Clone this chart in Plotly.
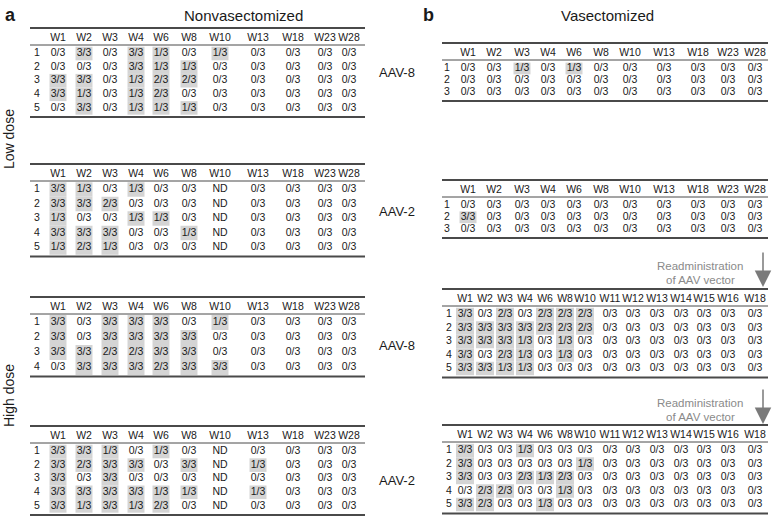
import plotly.graph_objects as go

# ---------------- data ----------------
weeks_long = ["W1", "W2", "W3", "W4", "W6", "W8", "W10", "W13", "W18", "W23", "W28"]
weeks_readmin = ["W1", "W2", "W3", "W4", "W6", "W8", "W10", "W11", "W12", "W13", "W14", "W15", "W16", "W18"]

nonvas_low_aav8 = [
    ["0/3", "3/3", "0/3", "3/3", "1/3", "0/3", "1/3", "0/3", "0/3", "0/3", "0/3"],
    ["0/3", "0/3", "0/3", "3/3", "1/3", "1/3", "0/3", "0/3", "0/3", "0/3", "0/3"],
    ["3/3", "3/3", "0/3", "1/3", "2/3", "2/3", "0/3", "0/3", "0/3", "0/3", "0/3"],
    ["3/3", "1/3", "0/3", "1/3", "2/3", "0/3", "0/3", "0/3", "0/3", "0/3", "0/3"],
    ["0/3", "3/3", "0/3", "1/3", "1/3", "1/3", "0/3", "0/3", "0/3", "0/3", "0/3"],
]
nonvas_low_aav2 = [
    ["3/3", "1/3", "0/3", "1/3", "0/3", "0/3", "ND", "0/3", "0/3", "0/3", "0/3"],
    ["3/3", "3/3", "2/3", "0/3", "0/3", "0/3", "ND", "0/3", "0/3", "0/3", "0/3"],
    ["1/3", "0/3", "0/3", "1/3", "1/3", "0/3", "ND", "0/3", "0/3", "0/3", "0/3"],
    ["3/3", "3/3", "3/3", "0/3", "0/3", "1/3", "ND", "0/3", "0/3", "0/3", "0/3"],
    ["1/3", "2/3", "1/3", "0/3", "0/3", "0/3", "ND", "0/3", "0/3", "0/3", "0/3"],
]
nonvas_high_aav8 = [
    ["3/3", "0/3", "3/3", "3/3", "3/3", "0/3", "1/3", "0/3", "0/3", "0/3", "0/3"],
    ["3/3", "0/3", "3/3", "3/3", "3/3", "3/3", "0/3", "0/3", "0/3", "0/3", "0/3"],
    ["3/3", "3/3", "2/3", "2/3", "3/3", "3/3", "0/3", "0/3", "0/3", "0/3", "0/3"],
    ["0/3", "3/3", "3/3", "3/3", "2/3", "3/3", "3/3", "0/3", "0/3", "0/3", "0/3"],
]
nonvas_high_aav2 = [
    ["3/3", "3/3", "1/3", "0/3", "1/3", "0/3", "ND", "0/3", "0/3", "0/3", "0/3"],
    ["3/3", "2/3", "3/3", "3/3", "0/3", "3/3", "ND", "1/3", "0/3", "0/3", "0/3"],
    ["3/3", "0/3", "3/3", "0/3", "0/3", "0/3", "ND", "0/3", "0/3", "0/3", "0/3"],
    ["3/3", "3/3", "3/3", "3/3", "1/3", "1/3", "ND", "1/3", "0/3", "0/3", "0/3"],
    ["3/3", "1/3", "3/3", "1/3", "2/3", "0/3", "ND", "0/3", "0/3", "0/3", "0/3"],
]
vas_aav8 = [
    ["0/3", "0/3", "1/3", "0/3", "1/3", "0/3", "0/3", "0/3", "0/3", "0/3", "0/3"],
    ["0/3", "0/3", "0/3", "0/3", "0/3", "0/3", "0/3", "0/3", "0/3", "0/3", "0/3"],
    ["0/3", "0/3", "0/3", "0/3", "0/3", "0/3", "0/3", "0/3", "0/3", "0/3", "0/3"],
]
vas_aav2 = [
    ["0/3", "0/3", "0/3", "0/3", "0/3", "0/3", "0/3", "0/3", "0/3", "0/3", "0/3"],
    ["3/3", "0/3", "0/3", "0/3", "0/3", "0/3", "0/3", "0/3", "0/3", "0/3", "0/3"],
    ["0/3", "0/3", "0/3", "0/3", "0/3", "0/3", "0/3", "0/3", "0/3", "0/3", "0/3"],
]
readmin_aav8 = [
    ["3/3", "0/3", "2/3", "0/3", "2/3", "2/3", "2/3", "0/3", "0/3", "0/3", "0/3", "0/3", "0/3", "0/3"],
    ["3/3", "3/3", "3/3", "3/3", "2/3", "2/3", "2/3", "0/3", "0/3", "0/3", "0/3", "0/3", "0/3", "0/3"],
    ["3/3", "3/3", "3/3", "1/3", "0/3", "1/3", "0/3", "0/3", "0/3", "0/3", "0/3", "0/3", "0/3", "0/3"],
    ["3/3", "0/3", "2/3", "1/3", "0/3", "1/3", "0/3", "0/3", "0/3", "0/3", "0/3", "0/3", "0/3", "0/3"],
    ["3/3", "3/3", "1/3", "1/3", "0/3", "0/3", "0/3", "0/3", "0/3", "0/3", "0/3", "0/3", "0/3", "0/3"],
]
readmin_aav2 = [
    ["3/3", "0/3", "0/3", "1/3", "0/3", "0/3", "0/3", "0/3", "0/3", "0/3", "0/3", "0/3", "0/3", "0/3"],
    ["3/3", "0/3", "0/3", "0/3", "0/3", "0/3", "1/3", "0/3", "0/3", "0/3", "0/3", "0/3", "0/3", "0/3"],
    ["3/3", "0/3", "0/3", "2/3", "1/3", "2/3", "0/3", "0/3", "0/3", "0/3", "0/3", "0/3", "0/3", "0/3"],
    ["0/3", "2/3", "2/3", "0/3", "0/3", "1/3", "0/3", "0/3", "0/3", "0/3", "0/3", "0/3", "0/3", "0/3"],
    ["3/3", "2/3", "0/3", "0/3", "1/3", "0/3", "0/3", "0/3", "0/3", "0/3", "0/3", "0/3", "0/3", "0/3"],
]

# ---------------- layout config (pixel canvas) ----------------
W, H = 777, 523
FONT = "Liberation Sans, Arial, Helvetica, sans-serif"
TXT = "#1a1a1a"
SHADE = "#d4d4d4"
LINE = "#4a4a4a"
CELL_SIZE = 10.5

left_cols = [58, 84, 110, 136, 161, 189, 220, 258, 293, 325, 349]
right_cols = [468, 494, 522, 548, 574, 601, 630, 664, 698, 728, 755]
readmin_cols = [465, 485, 505, 525, 545, 565, 585, 610, 633, 657, 681, 704, 728, 755]

tables = [
    dict(data=nonvas_low_aav8, weeks=weeks_long, cols=left_cols, x0=30, x1=365, rn=37, top=28, step=13.6, cw=17),
    dict(data=nonvas_low_aav2, weeks=weeks_long, cols=left_cols, x0=30, x1=365, rn=37, top=164, step=14.5, cw=17),
    dict(data=nonvas_high_aav8, weeks=weeks_long, cols=left_cols, x0=30, x1=365, rn=37, top=297, step=15, cw=17),
    dict(data=nonvas_high_aav2, weeks=weeks_long, cols=left_cols, x0=30, x1=365, rn=37, top=426, step=13.6, cw=17),
    dict(data=vas_aav8, weeks=weeks_long, cols=right_cols, x0=442, x1=768, rn=447, top=43, step=11.8, cw=17),
    dict(data=vas_aav2, weeks=weeks_long, cols=right_cols, x0=442, x1=768, rn=447, top=180, step=11.8, cw=17),
    dict(data=readmin_aav8, weeks=weeks_readmin, cols=readmin_cols, x0=442, x1=768, rn=449, top=289, step=13.5, cw=18),
    dict(data=readmin_aav2, weeks=weeks_readmin, cols=readmin_cols, x0=442, x1=768, rn=449, top=425, step=13.5, cw=18),
]

fig = go.Figure()
shapes = []
annotations = []

for t in tables:
    data, cols, step = t["data"], t["cols"], t["step"]
    top = t["top"]
    header_y = top + 10.5
    under_y = top + 17
    row0 = top + 25.5
    nrows = len(data)
    bottom_y = row0 + (nrows - 1) * step + 9
    for r, row in enumerate(data):
        ry = row0 + r * step
        for c, v in enumerate(row):
            if v not in ("0/3", "ND"):
                shapes.append(dict(type="rect", xref="x", yref="y",
                                   x0=cols[c] - t["cw"] / 2, x1=cols[c] + t["cw"] / 2,
                                   y0=ry - step / 2, y1=ry + step / 2,
                                   fillcolor=SHADE, line=dict(width=0), layer="below"))
    shapes.append(dict(type="line", xref="x", yref="y", x0=t["x0"], x1=t["x1"], y0=top, y1=top,
                       line=dict(color=LINE, width=2)))
    shapes.append(dict(type="line", xref="x", yref="y", x0=t["x0"], x1=t["x1"], y0=under_y, y1=under_y,
                       line=dict(color=LINE, width=1)))
    shapes.append(dict(type="line", xref="x", yref="y", x0=t["x0"], x1=t["x1"], y0=bottom_y, y1=bottom_y,
                       line=dict(color=LINE, width=2)))
    fig.add_trace(go.Scatter(x=cols, y=[header_y] * len(cols), text=t["weeks"], mode="text",
                             textfont=dict(family=FONT, size=CELL_SIZE, color=TXT),
                             hoverinfo="skip", showlegend=False))
    xs, ys, tx = [], [], []
    for r, row in enumerate(data):
        ry = row0 + r * step
        xs.append(t["rn"]); ys.append(ry); tx.append(str(r + 1))
        for c, v in enumerate(row):
            xs.append(cols[c]); ys.append(ry); tx.append(v)
    fig.add_trace(go.Scatter(x=xs, y=ys, text=tx, mode="text",
                             textfont=dict(family=FONT, size=CELL_SIZE, color=TXT),
                             hoverinfo="skip", showlegend=False))


def label(x, y, text, size=13, bold=False, angle=0, color=TXT, xanchor="center"):
    annotations.append(dict(x=x, y=y, xref="x", yref="y", text=("<b>%s</b>" % text) if bold else text,
                            showarrow=False, textangle=angle, xanchor=xanchor, yanchor="middle",
                            font=dict(family=FONT, size=size, color=color)))


label(10, 15, "a", size=18, bold=True)
label(243, 15, "Nonvasectomized", size=15)
label(428, 15, "b", size=18, bold=True)
label(607, 15, "Vasectomized", size=15)
label(9, 139, "Low dose", size=14, angle=-90)
label(9, 396, "High dose", size=14, angle=-90)
label(397, 72, "AAV-8", size=13)
label(397, 211, "AAV-2", size=13)
label(397, 345, "AAV-8", size=13)
label(397, 480, "AAV-2", size=13)

for ty in (266, 403):
    label(700, ty, "Readministration", size=11.5, color="#8a8a8a")
    label(700, ty + 14, "of AAV vector", size=11.5, color="#8a8a8a")
    annotations.append(dict(x=763, y=ty + 21, ax=763, ay=ty - 15, xref="x", yref="y", axref="x", ayref="y",
                            showarrow=True, arrowhead=2, arrowsize=2.2, arrowwidth=1.5,
                            arrowcolor="#7a7a7a", text=""))

fig.update_layout(
    width=W, height=H, margin=dict(l=0, r=0, t=0, b=0),
    paper_bgcolor="white", plot_bgcolor="white",
    xaxis=dict(range=[0, W], visible=False, fixedrange=True),
    yaxis=dict(range=[H, 0], visible=False, fixedrange=True),
    shapes=shapes, annotations=annotations,
)
fig.write_html("out.html", config={"displayModeBar": False},
               post_script="document.body.style.margin='0';document.body.style.overflow='hidden';")
